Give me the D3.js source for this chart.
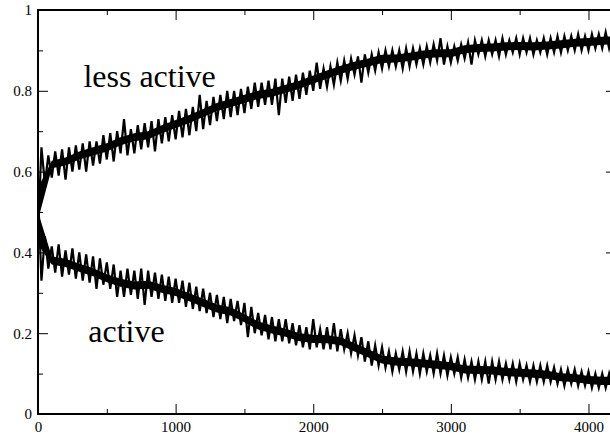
<!DOCTYPE html>
<html>
<head>
<meta charset="utf-8">
<script src="https://cdn.jsdelivr.net/npm/d3@7"></script>
<style>
  body { margin: 0; background: #fff; }
  svg { display: block; }
  svg text { font-family: "Liberation Serif", "Times New Roman", serif; }
  .axis text { font-size: 15px; fill: #000; }
  .axis .domain { display: none; }
  .axis line { stroke: #000; stroke-width: 1; }
  .frame { fill: none; stroke: #000; stroke-width: 2; }
  .core { fill: #000; stroke: none; }
  .trace { fill: none; stroke: #000; stroke-width: 2.2; stroke-miterlimit: 6; }
  .label { font-size: 32px; fill: #000; }
</style>
</head>
<body>
<div id="chart"></div>
<script>
// sample spacing of the noisy traces (time units)
var sampleStep = 25;
// spacing of the core band samples
var coreStep = 100;

// fraction "less active": alternating lows/highs every 25 steps
var lessActive = [
  0.45, 0.66, 0.57, 0.64,
  0.585, 0.65, 0.59, 0.655,
  0.58, 0.66, 0.60, 0.665,
  0.605, 0.67, 0.60, 0.675,
  0.615, 0.675, 0.62, 0.69,
  0.63, 0.695, 0.625, 0.70,
  0.645, 0.73, 0.64, 0.705,
  0.645, 0.715, 0.655, 0.72,
  0.66, 0.725, 0.65, 0.73,
  0.67, 0.735, 0.675, 0.74,
  0.68, 0.75, 0.685, 0.755,
  0.69, 0.76, 0.70, 0.79,
  0.705, 0.775, 0.715, 0.785,
  0.725, 0.79, 0.73, 0.80,
  0.735, 0.80, 0.74, 0.805,
  0.745, 0.81, 0.755, 0.82,
  0.76, 0.82, 0.765, 0.825,
  0.765, 0.83, 0.74, 0.83,
  0.77, 0.835, 0.775, 0.84,
  0.78, 0.845, 0.79, 0.85,
  0.80, 0.87, 0.805, 0.855,
  0.81, 0.86, 0.815, 0.87,
  0.825, 0.875, 0.83, 0.88,
  0.84, 0.885, 0.82, 0.89,
  0.845, 0.89, 0.85, 0.895,
  0.855, 0.90, 0.86, 0.90,
  0.86, 0.90, 0.855, 0.905,
  0.86, 0.905, 0.865, 0.905,
  0.865, 0.91, 0.87, 0.915,
  0.875, 0.93, 0.865, 0.91,
  0.87, 0.91, 0.875, 0.915,
  0.88, 0.92, 0.865, 0.925,
  0.89, 0.925, 0.885, 0.925,
  0.89, 0.925, 0.885, 0.93,
  0.89, 0.925, 0.895, 0.93,
  0.89, 0.93, 0.895, 0.93,
  0.89, 0.925, 0.895, 0.93,
  0.89, 0.93, 0.895, 0.935,
  0.895, 0.935, 0.90, 0.935,
  0.90, 0.94, 0.90, 0.935,
  0.90, 0.94, 0.905, 0.94,
  0.905, 0.945, 0.905, 0.94,
  0.91
];

// solid core of the "less active" band, every 100 steps
var lessActiveLo = [
  0.48, 0.608, 0.615, 0.63, 0.64, 0.65, 0.665, 0.675, 0.68, 0.695,
  0.708, 0.72, 0.735, 0.75, 0.76, 0.77, 0.78, 0.785, 0.795, 0.805,
  0.818, 0.83, 0.842, 0.852, 0.86, 0.869, 0.87, 0.874, 0.88, 0.883,
  0.883, 0.893, 0.896, 0.897, 0.90, 0.901, 0.90, 0.902, 0.905, 0.909,
  0.911, 0.914, 0.915
];
var lessActiveHi = [
  0.56, 0.627, 0.635, 0.65, 0.66, 0.67, 0.685, 0.695, 0.70, 0.715,
  0.728, 0.74, 0.755, 0.77, 0.78, 0.79, 0.80, 0.805, 0.815, 0.825,
  0.838, 0.85, 0.862, 0.872, 0.88, 0.889, 0.89, 0.894, 0.90, 0.903,
  0.903, 0.913, 0.916, 0.917, 0.92, 0.921, 0.92, 0.922, 0.925, 0.929,
  0.931, 0.934, 0.935
];

// fraction "active"
var active = [
  0.55, 0.33, 0.44, 0.36,
  0.415, 0.35, 0.42, 0.34,
  0.405, 0.345, 0.41, 0.335,
  0.40, 0.33, 0.395, 0.325,
  0.39, 0.31, 0.385, 0.32,
  0.375, 0.31, 0.37, 0.29,
  0.355, 0.29, 0.36, 0.295,
  0.355, 0.285, 0.36, 0.27,
  0.355, 0.29, 0.35, 0.285,
  0.345, 0.28, 0.34, 0.275,
  0.335, 0.275, 0.33, 0.265,
  0.325, 0.26, 0.315, 0.255,
  0.31, 0.25, 0.30, 0.24,
  0.295, 0.235, 0.29, 0.225,
  0.285, 0.23, 0.28, 0.22,
  0.275, 0.19, 0.265, 0.20,
  0.25, 0.195, 0.245, 0.185,
  0.24, 0.18, 0.235, 0.18,
  0.235, 0.175, 0.225, 0.17,
  0.22, 0.165, 0.215, 0.16,
  0.235, 0.165, 0.21, 0.16,
  0.215, 0.16, 0.225, 0.155,
  0.21, 0.16, 0.20, 0.15,
  0.195, 0.145, 0.19, 0.13,
  0.18, 0.12, 0.17, 0.12,
  0.165, 0.115, 0.155, 0.105,
  0.15, 0.11, 0.155, 0.105,
  0.155, 0.105, 0.15, 0.10,
  0.15, 0.105, 0.145, 0.10,
  0.15, 0.10, 0.145, 0.095,
  0.14, 0.10, 0.14, 0.09,
  0.135, 0.09, 0.13, 0.085,
  0.13, 0.085, 0.13, 0.075,
  0.13, 0.085, 0.13, 0.085,
  0.125, 0.085, 0.125, 0.08,
  0.125, 0.085, 0.12, 0.08,
  0.12, 0.08, 0.12, 0.08,
  0.12, 0.08, 0.115, 0.075,
  0.11, 0.07, 0.11, 0.075,
  0.11, 0.07, 0.105, 0.07,
  0.105, 0.065, 0.10, 0.065,
  0.10, 0.065, 0.10, 0.065,
  0.10
];

var activeLo = [
  0.42, 0.37, 0.364, 0.352, 0.341, 0.326, 0.315, 0.308, 0.31, 0.30,
  0.292, 0.279, 0.265, 0.251, 0.244, 0.227, 0.209, 0.199, 0.191, 0.18,
  0.176, 0.175, 0.17, 0.155, 0.14, 0.125, 0.12, 0.118, 0.115, 0.112,
  0.108, 0.10, 0.099, 0.098, 0.094, 0.092, 0.09, 0.087, 0.081, 0.079,
  0.074, 0.072, 0.072
];
var activeHi = [
  0.50, 0.39, 0.384, 0.372, 0.361, 0.346, 0.335, 0.328, 0.33, 0.32,
  0.312, 0.299, 0.285, 0.271, 0.264, 0.247, 0.229, 0.219, 0.211, 0.20,
  0.196, 0.195, 0.19, 0.175, 0.16, 0.145, 0.14, 0.138, 0.135, 0.132,
  0.128, 0.12, 0.119, 0.118, 0.114, 0.112, 0.11, 0.107, 0.101, 0.099,
  0.094, 0.092, 0.092
];

var xMajor = [0, 1000, 2000, 3000, 4000];
var xMinor = [500, 1500, 2500, 3500];
var yMajor = [0, 0.2, 0.4, 0.6, 0.8, 1];
var yMinor = [0.1, 0.3, 0.5, 0.7, 0.9];
var yLabels = ["0", "0.2", "0.4", "0.6", "0.8", "1"];

var labels = [
  {text: "less active", t: 330, v: 0.81},
  {text: "active", t: 365, v: 0.179}
];

var W = 610, H = 441;
var margin = {top: 10, right: -6, bottom: 27, left: 38}
  , width = W - margin.left - margin.right
  , height = H - margin.top - margin.bottom;

var x = d3.scaleLinear().domain([0, 4200]).range([0, width]);
var y = d3.scaleLinear().domain([0, 1]).range([height, 0]);

var svg = d3.select("#chart").append("svg")
    .attr("width", W)
    .attr("height", H);

var g = svg.append("g")
    .attr("transform", "translate(" + margin.left + "," + margin.top + ")");

svg.append("defs").append("clipPath")
    .attr("id", "plot-clip")
  .append("rect")
    .attr("width", width)
    .attr("height", height);

var line_gen = d3.line()
    .x((d, i) => x(i * sampleStep))
    .y(d => y(d));

var area_gen = d3.area()
    .x(d => x(d.t))
    .y0(d => y(d.lo))
    .y1(d => y(d.hi));

function coreData(lo, hi) {
  return lo.map((v, i) => ({t: i * coreStep, lo: v, hi: hi[i]}));
}

var traces = g.append("g").attr("clip-path", "url(#plot-clip)");

[[lessActiveLo, lessActiveHi], [activeLo, activeHi]].forEach(function(pair) {
  traces.append("path")
      .attr("class", "core")
      .attr("d", area_gen(coreData(pair[0], pair[1])));
});

[lessActive, active].forEach(function(series) {
  traces.append("path")
      .attr("class", "trace")
      .attr("d", line_gen(series));
});

// axes: inward ticks on all four sides
function tickAxis(axisFn, scale, values, size, fmt) {
  var a = axisFn(scale).tickValues(values).tickSizeInner(-size).tickSizeOuter(0);
  if (fmt) a.tickFormat(fmt); else a.tickFormat("");
  return a;
}

var fmtX = d3.format("d");
var fmtY = (d) => yLabels[yMajor.indexOf(d)];

var bottom = g.append("g").attr("class", "axis")
    .attr("transform", "translate(0," + height + ")");
bottom.call(tickAxis(d3.axisBottom, x, xMajor, 10, fmtX).tickPadding(7));
bottom.append("g").call(tickAxis(d3.axisBottom, x, xMinor, 5));

var top_ = g.append("g").attr("class", "axis");
top_.call(tickAxis(d3.axisTop, x, xMajor, 10));
top_.append("g").call(tickAxis(d3.axisTop, x, xMinor, 5));

var left = g.append("g").attr("class", "axis");
left.call(tickAxis(d3.axisLeft, y, yMajor, 10, fmtY).tickPadding(6));
left.append("g").call(tickAxis(d3.axisLeft, y, yMinor, 5));

var right = g.append("g").attr("class", "axis")
    .attr("transform", "translate(" + width + ",0)");
right.call(tickAxis(d3.axisRight, y, yMajor, 10));
right.append("g").call(tickAxis(d3.axisRight, y, yMinor, 5));

svg.selectAll(".axis").attr("font-family", null);

g.append("rect")
    .attr("class", "frame")
    .attr("width", width)
    .attr("height", height);

g.selectAll(".label")
  .data(labels)
  .enter().append("text")
    .attr("class", "label")
    .attr("x", d => x(d.t))
    .attr("y", d => y(d.v))
    .text(d => d.text);
</script>
</body>
</html>
